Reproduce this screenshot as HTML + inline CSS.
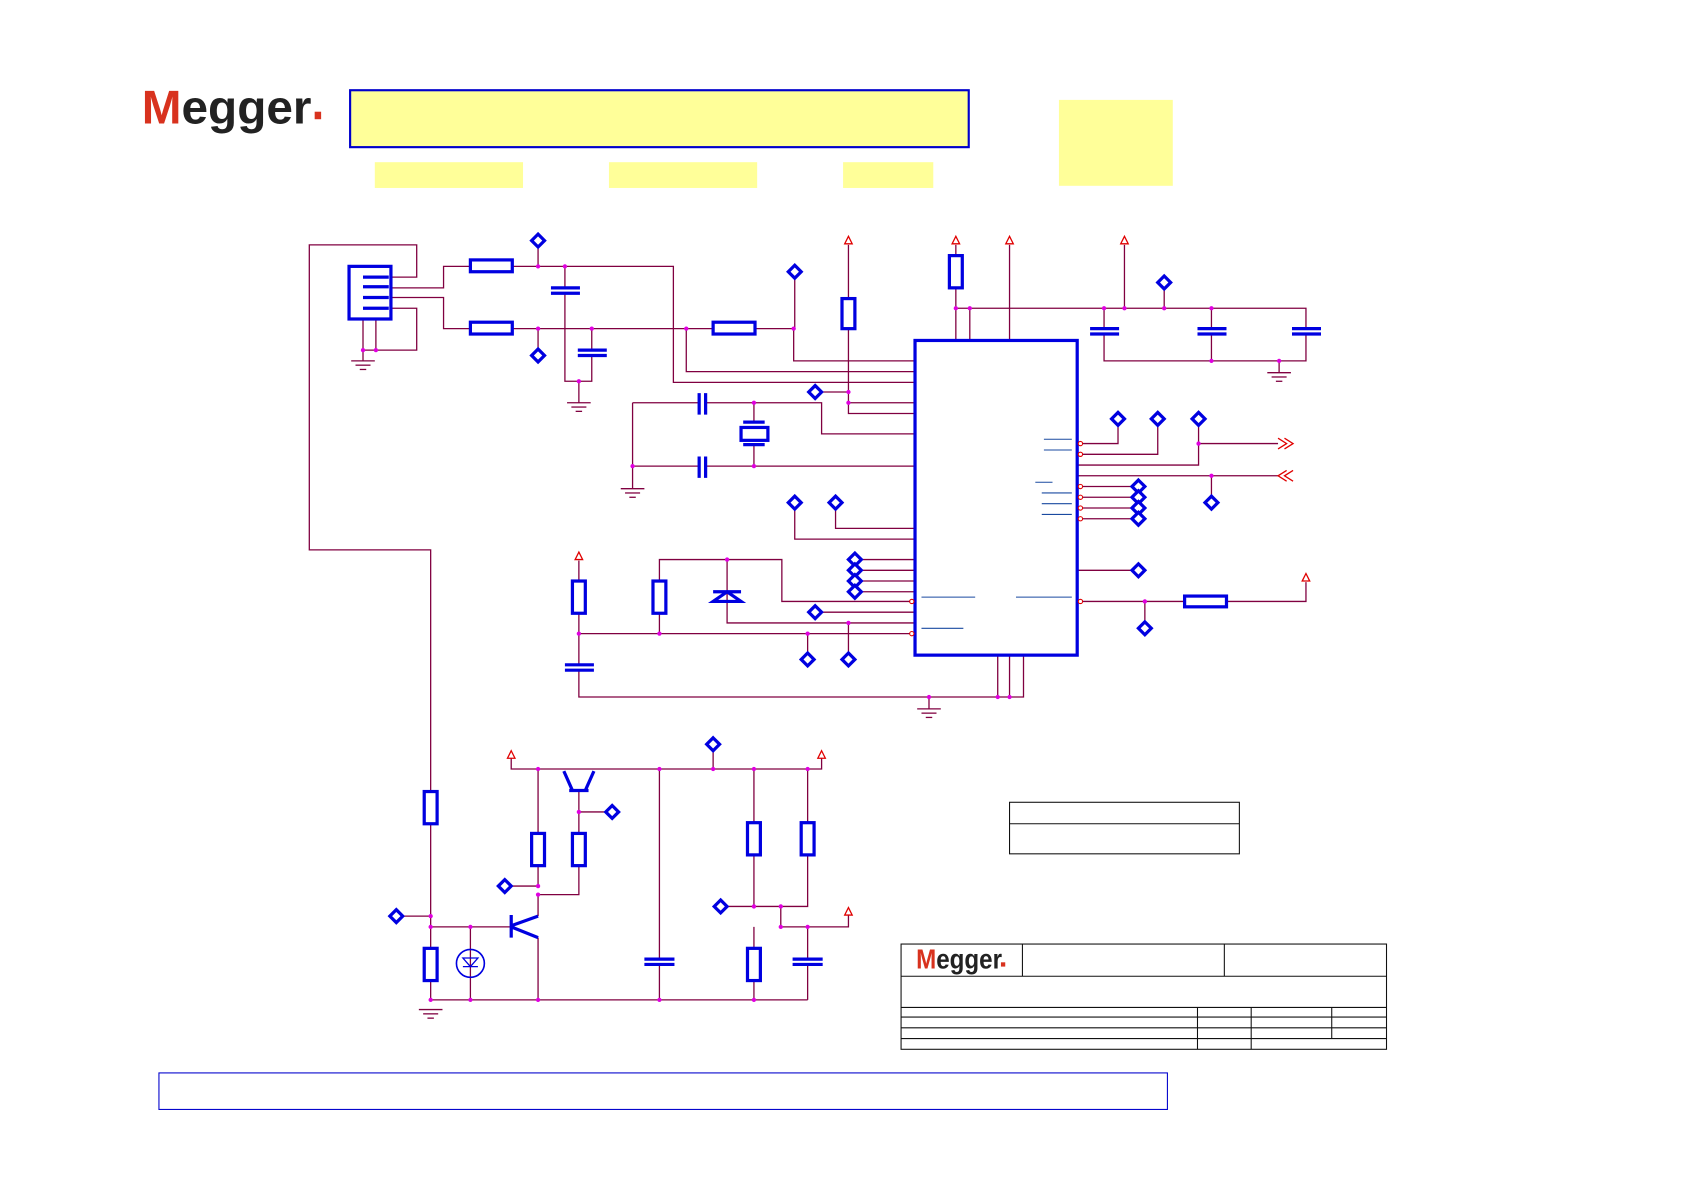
<!DOCTYPE html>
<html><head><meta charset="utf-8"><style>html,body{margin:0;padding:0;background:#fff}svg{display:block}</style></head><body>
<svg width="1684" height="1190" viewBox="0 0 1568 1108" xmlns="http://www.w3.org/2000/svg" font-family="Liberation Sans, sans-serif">
<defs>
<g id="dia"><polygon points="0,-6 6,0 0,6 -6,0" fill="#fff" stroke="#0000e0" stroke-width="3"/></g>
<g id="arr"><polygon points="0,-6 3.5,1 -3.5,1" fill="#fff" stroke="#e00000" stroke-width="1.2"/></g>
<g id="gnd" stroke="#800040" stroke-width="1.2"><line x1="-11" y1="0" x2="11" y2="0"/><line x1="-7" y1="4" x2="7" y2="4"/><line x1="-3" y1="8" x2="3" y2="8"/></g>
</defs>
<text x="132" y="115" font-size="44" font-weight="bold" fill="#222" textLength="158" lengthAdjust="spacingAndGlyphs"><tspan fill="#d8321e">M</tspan>egger</text>
<rect x="293" y="104" width="6" height="7" fill="#d8321e"/>
<rect x="326" y="84" width="576" height="53" fill="#ffff99" stroke="#0000cc" stroke-width="2"/>
<rect x="349" y="151" width="138" height="24" fill="#ffff99"/>
<rect x="567" y="151" width="138" height="24" fill="#ffff99"/>
<rect x="785" y="151" width="84" height="24" fill="#ffff99"/>
<rect x="986" y="93" width="106" height="80" fill="#ffff99"/>
<rect x="148" y="999" width="939" height="34" fill="none" stroke="#0000cc" stroke-width="1"/>
<g fill="none" stroke="#111" stroke-width="1">
<rect x="839" y="879" width="452" height="98"/>
<line x1="952" y1="879" x2="952" y2="909"/><line x1="1140" y1="879" x2="1140" y2="909"/>
<line x1="839" y1="909" x2="1291" y2="909"/><line x1="839" y1="938" x2="1291" y2="938"/>
<line x1="839" y1="947" x2="1291" y2="947"/><line x1="839" y1="957" x2="1291" y2="957"/><line x1="839" y1="967" x2="1291" y2="967"/>
<line x1="1115" y1="938" x2="1115" y2="977"/><line x1="1165" y1="938" x2="1165" y2="977"/><line x1="1240" y1="938" x2="1240" y2="967"/>
<rect x="940" y="747" width="214" height="48"/><line x1="940" y1="767" x2="1154" y2="767"/>
</g>
<text x="853" y="902" font-size="26" font-weight="bold" fill="#222" textLength="80" lengthAdjust="spacingAndGlyphs"><tspan fill="#d8321e">M</tspan>egger</text>
<rect x="932" y="896" width="4" height="4" fill="#d8321e"/>
<g fill="none" stroke="#800040" stroke-width="1.2">
<path d="M364,258H388V228H288V512H401V931"/>
<path d="M364,268H413V248H438M477,248H627V356H852"/>
<path d="M364,277H413V306H438M477,306H664M703,306H739V336H852M639,306V346H852"/>
<path d="M364,287H388V326H338M338,297V336M350,297V326"/>
<path d="M501,230V248M501,306V325"/>
<path d="M526,248V268M526,273V355H551V331M551,326V306M539,355V375"/>
<path d="M740,259V306M790,228V278M790,306V385H852M790,375H852M765,365H790"/>
<path d="M589,375H651M657,375H765V404H852M702,375V393M702,414V434M589,434H651M657,434H852M589,375V455"/>
<path d="M740,474V502H852M778,474V492H852M802,521H852M802,531H852M802,541H852M802,551H852"/>
<path d="M890,228V238M890,268V317M903,287V317M940,228V317M1047,228V287M890,287H1216V306M1028,287V306M1128,287V306M1028,311V336H1216V311M1128,311V336M1084,269V287M1191,336V347"/>
<path d="M1003,413H1041V396M1003,423H1078V396M1003,433H1116V396M1116,413H1190M1003,443H1190M1128,443V462"/>
<path d="M1003,453H1054M1003,463H1054M1003,473H1054M1003,483H1054M1003,531H1054M1003,560H1103M1142,560H1216V542M1066,560V579"/>
<path d="M539,522V541M539,571V619M539,624V649H953V610M929,610V649M940,610V649M865,649V660M539,590H852"/>
<path d="M614,541V521H728V560H852M614,571V590M677,521V580H852M752,590V608M790,580V608M765,570H852"/>
<path d="M476,706V716H765V706M664,699V716M539,736V776M539,806V833H501M576,756H539M501,716V776M501,806V825H476M501,833V853M501,873V931"/>
<path d="M614,716V893M614,898V931M702,716V766M702,796V844H752V796M752,716V766M677,844H702M727,844V863H790V852M702,863V883M702,913V931M752,863V893M752,898V931M401,931H752M401,863H476M375,853H401M438,863V931"/>
</g>
<g fill="#e000e0">
<circle cx="501" cy="248" r="2"/><circle cx="526" cy="248" r="2"/><circle cx="501" cy="306" r="2"/><circle cx="551" cy="306" r="2"/><circle cx="639" cy="306" r="2"/><circle cx="739" cy="306" r="2"/><circle cx="539" cy="355" r="2"/><circle cx="338" cy="326" r="2"/><circle cx="350" cy="326" r="2"/><circle cx="790" cy="365" r="2"/><circle cx="790" cy="375" r="2"/><circle cx="702" cy="375" r="2"/><circle cx="702" cy="434" r="2"/><circle cx="589" cy="434" r="2"/><circle cx="890" cy="287" r="2"/><circle cx="903" cy="287" r="2"/><circle cx="1028" cy="287" r="2"/><circle cx="1047" cy="287" r="2"/><circle cx="1084" cy="287" r="2"/><circle cx="1128" cy="287" r="2"/><circle cx="1128" cy="336" r="2"/><circle cx="1191" cy="336" r="2"/><circle cx="1116" cy="413" r="2"/><circle cx="1128" cy="443" r="2"/><circle cx="1066" cy="560" r="2"/><circle cx="539" cy="590" r="2"/><circle cx="614" cy="590" r="2"/><circle cx="752" cy="590" r="2"/><circle cx="790" cy="580" r="2"/><circle cx="677" cy="521" r="2"/><circle cx="865" cy="649" r="2"/><circle cx="929" cy="649" r="2"/><circle cx="940" cy="649" r="2"/><circle cx="501" cy="716" r="2"/><circle cx="614" cy="716" r="2"/><circle cx="664" cy="716" r="2"/><circle cx="702" cy="716" r="2"/><circle cx="752" cy="716" r="2"/><circle cx="539" cy="756" r="2"/><circle cx="501" cy="825" r="2"/><circle cx="501" cy="833" r="2"/><circle cx="702" cy="844" r="2"/><circle cx="727" cy="844" r="2"/><circle cx="727" cy="863" r="2"/><circle cx="752" cy="863" r="2"/><circle cx="401" cy="853" r="2"/><circle cx="401" cy="863" r="2"/><circle cx="438" cy="863" r="2"/><circle cx="401" cy="931" r="2"/><circle cx="438" cy="931" r="2"/><circle cx="501" cy="931" r="2"/><circle cx="614" cy="931" r="2"/><circle cx="702" cy="931" r="2"/>
</g>
<g fill="#fff" stroke="#0000e0" stroke-width="3">
<rect x="852" y="317" width="151" height="293" fill="none"/>
<rect x="325" y="248" width="39" height="49" fill="none"/>
<rect x="438" y="242" width="39" height="11"/><rect x="438" y="300" width="39" height="11"/><rect x="664" y="300" width="39" height="11"/>
<rect x="784" y="278" width="12" height="28"/><rect x="884" y="238" width="12" height="30"/>
<rect x="690" y="398" width="25" height="12"/>
<rect x="533" y="541" width="12" height="30"/><rect x="608" y="541" width="12" height="30"/>
<rect x="1103" y="555" width="39" height="10"/>
<rect x="395" y="737" width="12" height="30"/><rect x="395" y="883" width="12" height="30"/>
<rect x="495" y="776" width="12" height="30"/><rect x="533" y="776" width="12" height="30"/>
<rect x="696" y="766" width="12" height="30"/><rect x="746" y="766" width="12" height="30"/><rect x="696" y="883" width="12" height="30"/>
</g>
<g stroke="#0000e0" stroke-width="3" fill="none">
<path d="M338,258H362M338,267H362M338,277H362M338,287H362"/>
<path d="M513,268H540M513,273H540M538,326H565M538,331H565M1015,306H1042M1015,311H1042M1115,306H1142M1115,311H1142M1203,306H1230M1203,311H1230"/>
<path d="M651,366V386M657,366V386M651,425V445M657,425V445M692,393H712M692,414H712"/>
<path d="M526,619H553M526,624H553M600,893H628M600,898H628M738,893H766M738,898H766"/>
<path d="M664,551H690M664,560L677,551L690,560Z"/>
<path d="M525,718L533,736M553,718L545,736M530,736H548M476,852V873M476,862L501,853M476,863L501,873"/>
</g>
<circle cx="438" cy="897" r="13" fill="none" stroke="#0000e0" stroke-width="1.5"/>
<path d="M431,892H445L438,900ZM431,900H445" fill="none" stroke="#0000e0" stroke-width="1.2"/>
<g stroke="#1a4aa0" stroke-width="1">
<path d="M972,409H998M972,419H998M964,449H980M970,459H998M970,469H998M970,479H998M858,556H908M946,556H998M858,585H897"/>
</g>
<g fill="#fff" stroke="#e00000" stroke-width="1">
<circle cx="1006" cy="413" r="2"/><circle cx="1006" cy="423" r="2"/><circle cx="1006" cy="453" r="2"/><circle cx="1006" cy="463" r="2"/><circle cx="1006" cy="473" r="2"/><circle cx="1006" cy="483" r="2"/><circle cx="1006" cy="560" r="2"/><circle cx="849" cy="560" r="2"/><circle cx="849" cy="590" r="2"/>
</g>
<path d="M1190,408L1198,413L1190,418M1196,408L1204,413L1196,418M1198,438L1190,443L1198,448M1204,438L1196,443L1204,448" fill="none" stroke="#e00000" stroke-width="1.2"/>
<use href="#dia" x="501" y="224"/><use href="#dia" x="501" y="331"/><use href="#dia" x="740" y="253"/><use href="#dia" x="759" y="365"/>
<use href="#dia" x="740" y="468"/><use href="#dia" x="778" y="468"/><use href="#dia" x="796" y="521"/><use href="#dia" x="796" y="531"/><use href="#dia" x="796" y="541"/><use href="#dia" x="796" y="551"/><use href="#dia" x="759" y="570"/><use href="#dia" x="752" y="614"/><use href="#dia" x="790" y="614"/>
<use href="#dia" x="1084" y="263"/><use href="#dia" x="1041" y="390"/><use href="#dia" x="1078" y="390"/><use href="#dia" x="1116" y="390"/><use href="#dia" x="1128" y="468"/>
<use href="#dia" x="1060" y="453"/><use href="#dia" x="1060" y="463"/><use href="#dia" x="1060" y="473"/><use href="#dia" x="1060" y="483"/><use href="#dia" x="1060" y="531"/><use href="#dia" x="1066" y="585"/>
<use href="#dia" x="664" y="693"/><use href="#dia" x="570" y="756"/><use href="#dia" x="470" y="825"/><use href="#dia" x="671" y="844"/><use href="#dia" x="369" y="853"/>
<use href="#arr" x="790" y="226"/><use href="#arr" x="890" y="226"/><use href="#arr" x="940" y="226"/><use href="#arr" x="1047" y="226"/><use href="#arr" x="539" y="520"/><use href="#arr" x="1216" y="540"/><use href="#arr" x="476" y="705"/><use href="#arr" x="765" y="705"/><use href="#arr" x="790" y="851"/>
<use href="#gnd" x="338" y="336"/><use href="#gnd" x="539" y="375"/><use href="#gnd" x="589" y="455"/><use href="#gnd" x="1191" y="347"/><use href="#gnd" x="865" y="660"/><use href="#gnd" x="401" y="940"/>
</svg>
</body></html>
